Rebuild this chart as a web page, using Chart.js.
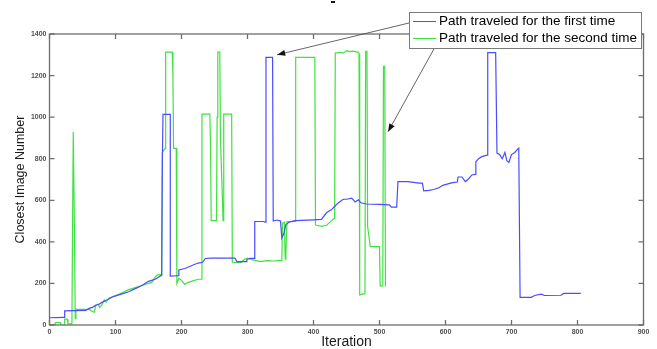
<!DOCTYPE html>
<html>
<head>
<meta charset="utf-8">
<script src="https://cdn.jsdelivr.net/npm/chart.js@4.4.0/dist/chart.umd.min.js"></script>
<style>
  html, body { margin: 0; padding: 0; background: #fff; }
  #wrap { width: 657px; height: 349px; }
</style>
</head>
<body>
<div id="wrap"><canvas id="pathChart" width="657" height="349"></canvas></div>
<script>
// 資料：第一次行走路徑（藍）
const firstX = [0, 22, 23, 55, 60, 65, 70, 75, 80, 85, 90, 95, 100, 110, 120, 130, 140, 150, 155, 160, 165, 170, 171, 172, 183, 183,
  195, 196, 205, 215, 225, 232, 236, 245, 281, 284, 298, 299, 304, 310, 311, 324, 327, 328, 338, 339, 345, 350, 352, 355, 358,
  363, 372, 400, 412, 420, 427, 432, 437, 445, 450, 458, 463, 468, 472, 480, 500, 515, 518, 526, 528, 543, 560, 565, 567, 575,
  582, 590, 596, 605, 611, 618, 619, 625, 630, 634, 640, 645, 646, 650, 655, 663, 664, 676, 678, 682, 686, 690, 693, 696, 700,
  705, 709, 711, 713, 730, 735, 745, 750, 775, 779, 805];
const firstY = [35, 37, 68, 70, 80, 85, 95, 100, 110, 118, 125, 135, 140, 150, 160, 175, 190, 210, 215, 220, 230, 240, 800, 1013, 1013, 235,
  237, 265, 272, 285, 298, 302, 320, 322, 322, 305, 305, 316, 321, 321, 498, 498, 495, 1288, 1288, 500, 505, 500, 418, 440, 482,
  495, 502, 506, 508, 541, 554, 570, 586, 605, 605, 610, 592, 602, 588, 582, 580, 578, 567, 567, 690, 690, 683, 683, 645, 648,
  652, 660, 672, 680, 685, 688, 712, 712, 690, 700, 722, 725, 785, 800, 810, 817, 1310, 1310, 827, 820, 800, 830, 790, 782, 820,
  830, 845, 851, 133, 133, 142, 148, 142, 143, 152, 152];

// 資料：第二次行走路徑（綠）
const secondX = [0, 8, 9, 16, 17, 22, 23, 27, 28, 33, 34, 35, 36, 37, 38, 39, 40, 60, 65, 68, 70, 74, 76, 80, 83, 86, 90, 100, 110, 120,
  130, 140, 150, 155, 160, 163, 168, 170, 171, 175, 176, 186, 187, 188, 192, 193, 196, 200, 205, 210, 215, 220, 225, 230, 231, 243,
  244, 245, 253, 254, 255, 258, 259, 263, 264, 276, 277, 290, 295, 300, 305, 310, 320, 330, 340, 345, 352, 353, 356, 357, 358, 359,
  360, 372, 373, 402, 403, 405, 412, 420, 425, 430, 432, 433, 440, 445, 450, 455, 460, 468, 469, 470, 475, 478, 479, 481, 482, 486,
  500, 501, 505, 506, 508, 509];
const secondY = [0, 0, 12, 12, 0, 0, 28, 28, 5, 5, 30, 500, 930, 930, 400, 30, 75, 75, 65, 62, 95, 100, 85, 100, 120, 110, 130, 140, 155, 170,
  180, 190, 200, 205, 230, 240, 242, 240, 830, 850, 1313, 1313, 1200, 850, 850, 200, 225, 215, 195, 205, 210, 215, 220, 220, 1015, 1015,
  850, 502, 502, 1000, 1313, 1313, 900, 502, 1015, 1015, 302, 300, 315, 322, 315, 312, 305, 310, 308, 310, 310, 490, 495, 320, 316, 440,
  498, 498, 1288, 1288, 482, 480, 475, 480, 495, 510, 512, 1309, 1312, 1308, 1320, 1315, 1318, 1312, 1305, 145, 150, 150, 1316, 1316, 474, 377,
  377, 188, 188, 1244, 1244, 185];

// 刻度
const xTicks = [0, 100, 200, 300, 400, 500, 600, 700, 800, 900];
const yTicks = [0, 200, 400, 600, 800, 1000, 1200, 1400];

const seriesNames = ["Path traveled for the first time", "Path traveled for the second time"];
const seriesColors = ["#4b4bff", "#3fe23f"];

const toPoints = (xs, ys) => xs.map((x, i) => ({ x: x, y: ys[i] }));

// 外框、內向刻度、圖例與箭頭
const matlabBox = {
    id: "matlabBox",
    afterDraw(chart) {
        const { ctx, chartArea: a, scales } = chart;
        const xs = scales.x, ys = scales.y;
        ctx.save();
        ctx.strokeStyle = "#6e6e6e";
        ctx.lineWidth = 1.3;
        ctx.strokeRect(a.left, a.top, a.right - a.left, a.bottom - a.top);
        ctx.beginPath();
        xTicks.forEach(t => {
            const px = xs.getPixelForValue(t);
            ctx.moveTo(px, a.bottom); ctx.lineTo(px, a.bottom - 5);
            ctx.moveTo(px, a.top); ctx.lineTo(px, a.top + 5);
        });
        yTicks.forEach(t => {
            const py = ys.getPixelForValue(t);
            ctx.moveTo(a.left, py); ctx.lineTo(a.left + 5, py);
            ctx.moveTo(a.right, py); ctx.lineTo(a.right - 5, py);
        });
        ctx.stroke();

        // 被裁切的標題殘跡
        ctx.fillStyle = "#111";
        ctx.fillRect(331, 1, 4, 2);

        // 箭頭
        const arrow = (x0, y0, x1, y1) => {
            const ang = Math.atan2(y1 - y0, x1 - x0);
            ctx.strokeStyle = "#555";
            ctx.lineWidth = 0.9;
            ctx.beginPath(); ctx.moveTo(x0, y0); ctx.lineTo(x1, y1); ctx.stroke();
            ctx.fillStyle = "#111";
            ctx.beginPath();
            ctx.moveTo(x1, y1);
            ctx.lineTo(x1 - 8 * Math.cos(ang) + 3 * Math.sin(ang), y1 - 8 * Math.sin(ang) - 3 * Math.cos(ang));
            ctx.lineTo(x1 - 8 * Math.cos(ang) - 3 * Math.sin(ang), y1 - 8 * Math.sin(ang) + 3 * Math.cos(ang));
            ctx.closePath(); ctx.fill();
        };
        arrow(409, 23, xs.getPixelForValue(345), ys.getPixelForValue(1300));
        arrow(435, 47, xs.getPixelForValue(513), ys.getPixelForValue(930));

        // 圖例
        ctx.fillStyle = "#fff";
        ctx.fillRect(409, 12, 232, 36);
        ctx.strokeStyle = "#7a7a7a";
        ctx.lineWidth = 1;
        ctx.strokeRect(409.5, 12.5, 232, 36);
        ctx.font = "13.5px 'Liberation Sans', Arial, sans-serif";
        ctx.textBaseline = "middle";
        seriesNames.forEach((name, i) => {
            const cy = 21.5 + i * 17;
            ctx.strokeStyle = seriesColors[i];
            ctx.lineWidth = 1;
            ctx.beginPath(); ctx.moveTo(413, cy); ctx.lineTo(436, cy); ctx.stroke();
            ctx.fillStyle = "#000";
            ctx.fillText(name, 439, cy);
        });
        ctx.restore();
    }
};

const tickFont = { size: 7, weight: "bold", family: "'Liberation Sans', Arial" };

const ctx = document.getElementById("pathChart").getContext("2d");
new Chart(ctx, {
    type: "line",
    data: {
        datasets: [{
            label: seriesNames[0],
            data: toPoints(firstX, firstY),
            borderColor: seriesColors[0],
            borderWidth: 1.2
        }, {
            label: seriesNames[1],
            data: toPoints(secondX, secondY),
            borderColor: seriesColors[1],
            borderWidth: 1.2
        }]
    },
    options: {
        responsive: false,
        animation: false,
        layout: { padding: { top: 34, right: 13.5, left: 0, bottom: 0 } },
        elements: {
            point: { radius: 0 },
            line: { tension: 0 }
        },
        plugins: {
            legend: { display: false },
            tooltip: { enabled: false }
        },
        scales: {
            x: {
                type: "linear",
                min: 0, max: 900,
                afterFit: s => { s.height = 24; },
                afterBuildTicks: s => { s.ticks = xTicks.map(v => ({ value: v })); },
                grid: { display: false, drawTicks: false },
                border: { display: false },
                ticks: { padding: 3, color: "#505050", font: tickFont, maxRotation: 0, callback: v => String(v) },
                title: {
                    display: true, text: "Iteration", color: "#1a1a1a",
                    font: { size: 14, family: "'Liberation Sans', Arial", lineHeight: 1 },
                    padding: 0
                }
            },
            y: {
                min: 0, max: 1400,
                afterFit: s => { s.width = 49.5; },
                afterBuildTicks: s => { s.ticks = yTicks.map(v => ({ value: v })); },
                grid: { display: false, drawTicks: false },
                border: { display: false },
                ticks: { padding: 3, color: "#505050", font: tickFont, callback: v => String(v) },
                title: {
                    display: true, text: "Closest Image Number", color: "#1a1a1a",
                    font: { size: 12.5, family: "'Liberation Sans', Arial", lineHeight: 1.2 },
                    padding: { top: 13, bottom: 0 }
                }
            }
        }
    },
    plugins: [matlabBox]
});
</script>
</body>
</html>
